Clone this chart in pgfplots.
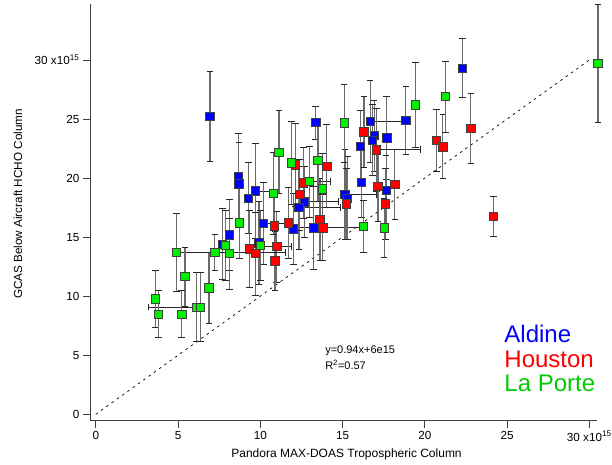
\documentclass[border=0pt]{standalone}
\usepackage{pgfplots}
\usepackage{pgfplotstable}
\pgfplotsset{compat=1.18}
\usepackage{fontspec}
\setmainfont{Liberation Sans}
\definecolor{cblue}{RGB}{0,0,255}
\definecolor{cred}{RGB}{255,0,0}
\definecolor{cgreen}{RGB}{0,240,0}
\definecolor{tgreen}{RGB}{0,204,0}

% x y exm exp ey
\pgfplotstableread{
x y exm exp ey
6.94 25.2 0 0 3.8
8.66 20.1 0 0 3.7
8.70 19.5 0 0 3.5
13.37 24.7 0 0 1.4
16.68 24.8 0 2.2 3.5
18.85 24.9 0 0 2.9
22.30 29.3 0 0 2.5
16.92 23.6 0 0 3.0
16.82 23.2 0 0 3.0
17.69 23.4 0 0 3.5
16.10 22.7 0 0 3.0
16.15 19.66 0 0 3.0
17.65 18.95 0 0 3.0
15.15 18.6 0 1.9 3.8
15.30 18.3 0 0 3.5
9.72 18.9 0 1.1 4.0
9.27 18.3 0 0 3.0
12.68 18.0 0 2.1 3.0
12.36 17.5 0 2.5 3.5
10.18 16.15 0 1.4 3.5
12.03 15.7 0 0 3.0
13.25 15.8 1.2 3.0 3.5
8.13 15.2 0 0 3.0
7.70 14.4 0 0 3.0
9.92 14.5 0 0 3.5
}\aldine

\pgfplotstableread{
x y exm exp ey
12.15 21.1 0 0 3.5
14.04 21.0 0 0 3.5
12.62 19.6 0 0 3.0
12.40 18.6 0 0 3.0
10.85 15.96 0 0 3.0
11.70 16.2 0 0 3.0
13.63 16.5 0 0 3.5
13.80 15.8 0 0 2.8
9.33 14.0 0 0 3.3
9.72 13.6 0 0 3.5
11.00 14.2 1.3 0.9 3.0
10.90 13.0 0 0 2.5
22.80 24.2 0 0 3.0
20.70 23.2 0 0 2.6
21.10 22.65 0 0 2.7
16.30 23.9 0 0 3.0
17.06 22.4 0 2.7 3.5
17.16 19.3 0 0 3.0
18.18 19.46 0 0 3.0
17.60 17.8 0 0 3.0
15.23 17.8 0 0 3.0
24.18 16.75 0 0 1.7
}\houston

\pgfplotstableread{
x y exm exp ey
30.53 29.7 0 0 5.0
21.26 26.9 0 0 3.0
19.42 26.2 0 0 3.6
15.10 24.66 0 0 3.3
11.14 22.2 0 0 3.5
11.91 21.3 0 0 3.5
13.51 21.5 0 0 3.5
10.81 18.7 0 0 3.5
13.00 19.7 0 1.25 3.0
13.77 19.1 0 0 3.0
8.74 16.2 0 0 3.0
7.89 14.3 0 0 3.0
8.12 13.6 0 0 3.0
7.24 13.7 2.3 4.3 1.5
10.00 14.3 0 0 3.0
4.91 13.73 0 0 3.3
5.42 11.66 0 0 2.5
3.63 9.77 0 0 2.4
3.80 8.47 0 0 2.0
5.23 8.47 0 0 2.0
6.13 9.07 2.95 0 2.9
6.37 9.07 0 0 2.9
6.88 10.7 0 0 3.0
16.27 15.9 0 0 2.2
17.53 15.8 0 0 2.5
}\laporte

\pgfplotsset{
  eby/.style={
    error bars/.cd, y dir=both, y explicit,
    error bar style={black!58, line width=1.2pt},
    error mark options={rotate=90, mark size=3.3pt, black!85, line width=0.9pt}},
  ebx/.style={
    error bars/.cd, x dir=both, x explicit,
    error bar style={black!85, line width=0.8pt},
    error mark options={rotate=90, mark size=3.3pt, black!85, line width=0.8pt}},
  sq/.style={only marks, mark=square*, mark size=4.2pt,
    mark options={fill=#1, draw=black!75, line width=0.8pt}},
}

\begin{document}
\begin{tikzpicture}
\path[use as bounding box] (0,0) rectangle (612pt,465pt);
\begin{axis}[
  at={(90pt,44.3pt)}, anchor=south west,
  scale only axis, width=507pt, height=416.7pt,
  xmin=-0.35, xmax=30.47, ymin=-0.54, ymax=34.74,
  axis lines=left,
  axis line style={-, black!75, line width=0.8pt},
  tick align=outside, major tick length=7pt,
  tick style={black!75, line width=0.8pt},
  xtick={0,5,...,30}, ytick={0,5,...,30},
  xticklabels={0,5,10,15,20,25,{30 x10\textsuperscript{15}}},
  yticklabels={0,5,10,15,20,25,{30 x10\textsuperscript{15}}},
  tick label style={font=\fontsize{11.7}{13}\selectfont},
  /pgf/number format/assume math mode=true,
  xlabel={Pandora MAX-DOAS Tropospheric Column},
  ylabel={GCAS Below Aircraft HCHO Column},
  xlabel style={font=\fontsize{12}{14}\selectfont, at={(axis description cs:0.506,-0.082)}, anchor=center},
  ylabel style={font=\fontsize{11.7}{14}\selectfont, at={(axis description cs:-0.142,0.52)}, anchor=center},
  clip=false,
]
\addplot[black, dash pattern=on 2.5pt off 4pt, line width=0.7pt] coordinates {(0,0) (30,30)};
% Aldine
\addplot[only marks, mark=none, ebx] table[x=x, y=y, x error plus=exp, x error minus=exm] {\aldine};
\addplot[sq=cblue, eby] table[x=x, y=y, y error=ey] {\aldine};
% Houston
\addplot[only marks, mark=none, ebx] table[x=x, y=y, x error plus=exp, x error minus=exm] {\houston};
\addplot[sq=cred, eby] table[x=x, y=y, y error=ey] {\houston};
% La Porte
\addplot[only marks, mark=none, ebx] table[x=x, y=y, x error plus=exp, x error minus=exm] {\laporte};
\addplot[sq=cgreen, eby] table[x=x, y=y, y error=ey] {\laporte};
\node[anchor=base west, inner sep=0pt, font=\fontsize{11}{13}\selectfont] at (axis cs:13.94,5.17) {y=0.94x+6e15};
\node[anchor=base west, inner sep=0pt, font=\fontsize{11}{13}\selectfont] at (axis cs:13.94,3.81) {R\textsuperscript{2}=0.57};
\node[anchor=base west, inner sep=0pt, font=\fontsize{24}{26}\selectfont, text=cblue] at (axis cs:24.83,6.07) {Aldine};
\node[anchor=base west, inner sep=0pt, font=\fontsize{24}{26}\selectfont, text=cred] at (axis cs:24.83,3.95) {Houston};
\node[anchor=base west, inner sep=0pt, font=\fontsize{24}{26}\selectfont, text=tgreen] at (axis cs:24.83,1.92) {La Porte};
\end{axis}
\end{tikzpicture}
\end{document}
